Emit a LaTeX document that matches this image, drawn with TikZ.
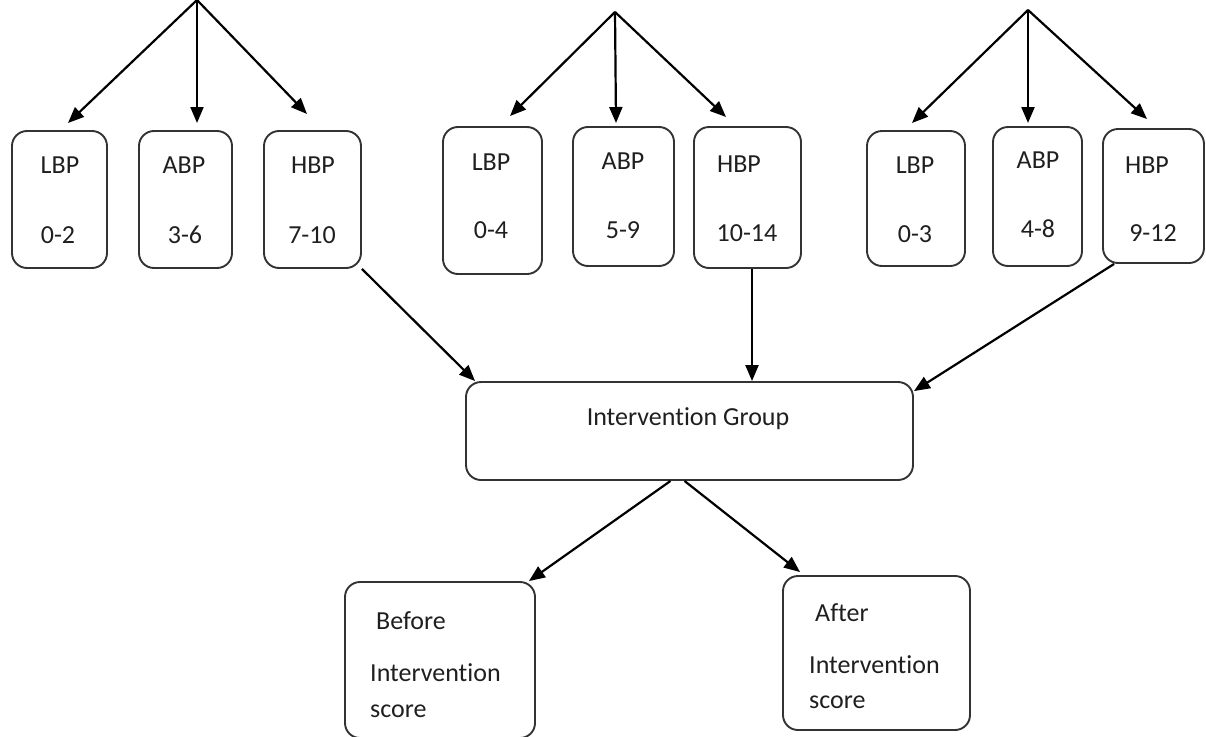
\documentclass[tikz,border=0pt]{standalone}
\usepackage{fontspec}
\setmainfont[Ligatures={NoCommon,NoContextual},RawFeature={-liga;-clig;-dlig}]{Carlito}
\usetikzlibrary{arrows.meta}
\newcommand\bx[5]{\node[boxnode, minimum width={#4-#2}, minimum height={#5-#3}] (#1) at ({(#2+#4)/2},{(#3+#5)/2}) {};}
\begin{document}
\begin{tikzpicture}[x=1pt,y=-1pt,
  boxnode/.style={draw=black!80, line width=1.9pt, rounded corners=15pt, inner sep=0pt, fill=none},
  lbl/.style={anchor=base, inner sep=0pt, text=black!88, font=\fontsize{26}{31}\selectfont},
  lbll/.style={anchor=base west, inner sep=0pt, text=black!88, font=\fontsize{26}{31}\selectfont},
  conn/.style={draw=black, line width=2.2pt, -{Triangle[length=16pt,width=13pt]}}]
\useasboundingbox (0,0) rectangle (1206,736);
% group 1
\bx{L1}{12}{131}{107}{268}
\bx{A1}{139}{131}{232}{268}
\bx{H1}{264}{131}{361}{268}
\node[lbl] (L1a) at (60,173) {LBP};
\node[lbl] (L1b) at (58,243) {0-2};
\node[lbl] (A1a) at (184,173) {ABP};
\node[lbl] (A1b) at (185,243) {3-6};
\node[lbl] (H1a) at (313,173) {HBP};
\node[lbl] (H1b) at (312,243) {7-10};
% group 2
\bx{L2}{443}{127}{542}{274}
\bx{A2}{573}{127}{674}{266}
\bx{H2}{694}{127}{801}{268}
\node[lbl] (L2a) at (491,170) {LBP};
\node[lbl] (L2b) at (491,238) {0-4};
\node[lbl] (A2a) at (623,169) {ABP};
\node[lbl] (A2b) at (623,238) {5-9};
\node[lbl] (H2a) at (739,172) {HBP};
\node[lbl] (H2b) at (747,241) {10-14};
% group 3
\bx{L3}{867}{131}{965}{266}
\bx{A3}{993}{127}{1082}{266}
\bx{H3}{1103}{129}{1204}{263}
\node[lbl] (L3a) at (915,173) {LBP};
\node[lbl] (L3b) at (915,242) {0-3};
\node[lbl] (A3a) at (1038,168) {ABP};
\node[lbl] (A3b) at (1038,237) {4-8};
\node[lbl] (H3a) at (1147,173) {HBP};
\node[lbl] (H3b) at (1153,241) {9-12};
% intervention group
\bx{IG}{466}{382}{913}{480}
\node[lbl] (IGa) at (688,425) {Intervention Group};
% before / after
\bx{BF}{345}{582}{535}{738}
\node[lbll] (BFa) at (376,629) {Before};
\node[lbll] (BFb) at (370,681) {Intervention};
\node[lbll] (BFc) at (370,717) {score};
\bx{AF}{783}{576}{970}{730}
\node[lbll] (AFa) at (815,621) {After};
\node[lbll] (AFb) at (809,673) {Intervention};
\node[lbll] (AFc) at (809,708) {score};
% top sources and tips
\coordinate (T1) at (197,0);
\coordinate (T2) at (615,12);
\coordinate (T3) at (1028,10);
\coordinate (tL1) at (68,123);
\coordinate (tA1) at (197,123);
\coordinate (tH1) at (307,114);
\coordinate (tL2) at (510,116);
\coordinate (tA2) at (616,123);
\coordinate (tH2) at (726,117);
\coordinate (tL3) at (912,123);
\coordinate (tA3) at (1028,123);
\coordinate (tH3) at (1147,119);
\foreach \g in {1,2,3}{
  \draw[conn] (T\g) -- (tL\g);
  \draw[conn] (T\g) -- (tA\g);
  \draw[conn] (T\g) -- (tH\g);
}
% to intervention group
\draw[conn] (H1.south east) -- ([xshift=10pt]IG.north west);
\draw[conn] ([xshift=4.5pt]H2.south) -- ([xshift=4.5pt]H2.south |- IG.north);
\draw[conn] ([xshift=12pt]H3.south west) -- ([yshift=-10pt]IG.north east);
% to before / after
\draw[conn] ([xshift=-19pt]IG.south) -- ([xshift=-7pt]BF.north east);
\draw[conn] ([xshift=-5pt]IG.south) -- ([xshift=18pt,yshift=3pt]AF.north west);
\end{tikzpicture}
\end{document}
